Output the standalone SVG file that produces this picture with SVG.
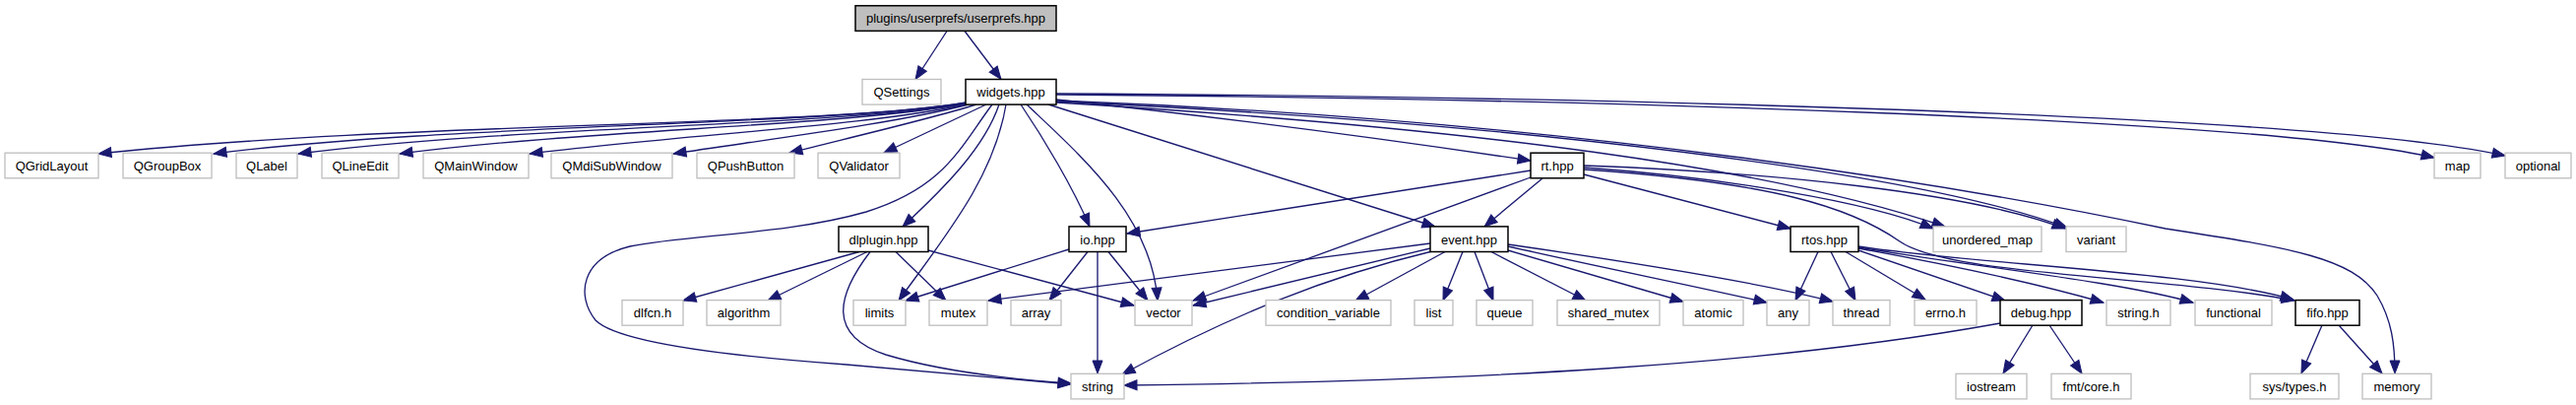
<svg xmlns="http://www.w3.org/2000/svg" width="2617" height="411" viewBox="0 0 2617 411">
<style>
.edges path{fill:none;stroke:#191970;stroke-width:1.33;marker-end:url(#arr)}
.ext rect{fill:#fff;stroke:#bfbfbf;stroke-width:1.33}
.int rect{fill:#fff;stroke:#000;stroke-width:1.5}
.root rect{fill:#bfbfbf;stroke:#000;stroke-width:1.5}
text{font-family:"Liberation Sans",Arial,Helvetica,sans-serif;font-size:13px;text-anchor:middle;fill:#000}
</style>
<defs>
<marker id="arr" markerUnits="userSpaceOnUse" markerWidth="14" markerHeight="11" refX="13" refY="5" orient="auto" overflow="visible">
<path d="M0,0 L13,5 L0,10 z" fill="#191970" stroke="#191970" stroke-width="1"/>
</marker>
</defs>
<rect x="0" y="0" width="2617" height="411" fill="#fff"/>
<g class="edges" id="edges">
<path d="M962,31.5 L930,80.5"/>
<path d="M980,31.5 L1017,80.5"/>
<path d="M982,104 C850,128 400,124 100,156"/>
<path d="M982,104 C850,127 450,126 217,156"/>
<path d="M982,105 C850,128 520,128 303,156"/>
<path d="M982,105 C860,128 600,131 406,156"/>
<path d="M982,106 C880,128 700,136 538,156"/>
<path d="M984,106 C910,125 790,140 684,156"/>
<path d="M992,106 C940,122 870,138 802,155"/>
<path d="M1002,106 L898,155"/>
<path d="M1015,106 C1000,150 960,190 917,230"/>
<path d="M1022,106 C1010,180 960,240 913,305"/>
<path d="M1008,106 C975,150 960,190 880,215 C800,238 700,238 640,250 C590,262 585,300 605,325 C625,345 720,360 860,370 C950,378 1030,385 1088,390"/>
<path d="M1037,106 C1060,140 1090,190 1107,230"/>
<path d="M1043,106 C1100,160 1170,220 1176,305"/>
<path d="M1065,106 L1458,230"/>
<path d="M1073,101 C1250,120 1400,140 1555,163"/>
<path d="M1073,104 C1500,130 1800,170 1976,230"/>
<path d="M1073,103 C1550,125 1950,175 2100,231"/>
<path d="M1073,102 C1600,122 2000,190 2200,232 C2330,252 2390,262 2415,300 C2430,325 2433,350 2433,379"/>
<path d="M1073,96 C1600,100 2300,120 2473,160"/>
<path d="M1073,95 C1600,98 2350,115 2545,158"/>
<path d="M1555,173 L1145,237"/>
<path d="M1555,180 L1212,305"/>
<path d="M1567,181 L1508,230"/>
<path d="M1609,177 L1819,232"/>
<path d="M1609,170 C1750,180 1900,205 1964,232"/>
<path d="M1609,168 C1800,175 2000,195 2098,232"/>
<path d="M1609,172 C1800,185 1880,210 1930,245 C1980,280 2200,280 2331,305"/>
<path d="M1847,255.5 L1824,305"/>
<path d="M1860,255.5 L1885,305"/>
<path d="M1875,255.5 L1956,304"/>
<path d="M1888,254 L2037,305"/>
<path d="M1888,252 C1960,265 2060,285 2137,307"/>
<path d="M1888,251 C2000,270 2150,285 2228,307"/>
<path d="M1888,250 C2000,268 2230,275 2330,304"/>
<path d="M1468,255.5 L1377,305"/>
<path d="M1486,255.5 L1466,305"/>
<path d="M1498,255.5 L1517,305"/>
<path d="M1515,255.5 L1611,305"/>
<path d="M1532,254 L1710,306"/>
<path d="M1532,250 C1620,270 1720,290 1795,307"/>
<path d="M1532,248 C1650,265 1780,285 1862,306"/>
<path d="M1453,247 L1004,305"/>
<path d="M1453,252 L1212,310"/>
<path d="M1455,255 C1350,280 1250,320 1140,380"/>
<path d="M1086,253 L920,305"/>
<path d="M1105,255.5 L1066,305"/>
<path d="M1115,255.5 L1115,379"/>
<path d="M1126,255.5 L1166,305"/>
<path d="M873,255.5 L694,305"/>
<path d="M881,255.5 L780,305"/>
<path d="M910,255.5 L961,305"/>
<path d="M943,254 L1152,310"/>
<path d="M884,255.5 C850,300 840,340 900,360 C960,378 1030,385 1088,389"/>
<path d="M2065,330 L2035,379"/>
<path d="M2082,330 L2115,379"/>
<path d="M2032,328 C1800,370 1500,387 1142,391"/>
<path d="M2359,330 L2338,379"/>
<path d="M2376,330 L2420,379"/>
</g>
<g id="n_userprefs" class="root"><rect x="869" y="5.8" width="204" height="25.6"/><text x="971" y="23.4">plugins/userprefs/userprefs.hpp</text></g>
<g id="n_QSettings" class="ext"><rect x="876" y="80.5" width="80" height="25.6"/><text x="916" y="98.1">QSettings</text></g>
<g id="n_widgets" class="int"><rect x="981" y="80.5" width="92" height="25.6"/><text x="1027" y="98.1">widgets.hpp</text></g>
<g id="n_QGridLayout" class="ext"><rect x="5" y="155.2" width="95" height="25.6"/><text x="52.5" y="172.8">QGridLayout</text></g>
<g id="n_QGroupBox" class="ext"><rect x="125" y="155.2" width="90" height="25.6"/><text x="170" y="172.8">QGroupBox</text></g>
<g id="n_QLabel" class="ext"><rect x="240" y="155.2" width="62" height="25.6"/><text x="271" y="172.8">QLabel</text></g>
<g id="n_QLineEdit" class="ext"><rect x="327" y="155.2" width="78" height="25.6"/><text x="366" y="172.8">QLineEdit</text></g>
<g id="n_QMainWindow" class="ext"><rect x="430" y="155.2" width="107" height="25.6"/><text x="483.5" y="172.8">QMainWindow</text></g>
<g id="n_QMdiSubWindow" class="ext"><rect x="560" y="155.2" width="123" height="25.6"/><text x="621.5" y="172.8">QMdiSubWindow</text></g>
<g id="n_QPushButton" class="ext"><rect x="708" y="155.2" width="99" height="25.6"/><text x="757.5" y="172.8">QPushButton</text></g>
<g id="n_QValidator" class="ext"><rect x="831" y="155.2" width="83" height="25.6"/><text x="872.5" y="172.8">QValidator</text></g>
<g id="n_rt" class="int"><rect x="1555" y="155.2" width="54" height="25.6"/><text x="1582" y="172.8">rt.hpp</text></g>
<g id="n_map" class="ext"><rect x="2473" y="155.2" width="47" height="25.6"/><text x="2496.5" y="172.8">map</text></g>
<g id="n_optional" class="ext"><rect x="2545" y="155.2" width="67" height="25.6"/><text x="2578.5" y="172.8">optional</text></g>
<g id="n_dlplugin" class="int"><rect x="852" y="229.9" width="91" height="25.6"/><text x="897.5" y="247.5">dlplugin.hpp</text></g>
<g id="n_io" class="int"><rect x="1086" y="229.9" width="58" height="25.6"/><text x="1115" y="247.5">io.hpp</text></g>
<g id="n_event" class="int"><rect x="1453" y="229.9" width="79" height="25.6"/><text x="1492.5" y="247.5">event.hpp</text></g>
<g id="n_rtos" class="int"><rect x="1819" y="229.9" width="69" height="25.6"/><text x="1853.5" y="247.5">rtos.hpp</text></g>
<g id="n_unordered_map" class="ext"><rect x="1964" y="229.9" width="110" height="25.6"/><text x="2019" y="247.5">unordered_map</text></g>
<g id="n_variant" class="ext"><rect x="2099" y="229.9" width="61" height="25.6"/><text x="2129.5" y="247.5">variant</text></g>
<g id="n_dlfcn" class="ext"><rect x="632" y="304.6" width="62" height="25.6"/><text x="663" y="322.2">dlfcn.h</text></g>
<g id="n_algorithm" class="ext"><rect x="718" y="304.6" width="75" height="25.6"/><text x="755.5" y="322.2">algorithm</text></g>
<g id="n_limits" class="ext"><rect x="867" y="304.6" width="53" height="25.6"/><text x="893.5" y="322.2">limits</text></g>
<g id="n_mutex" class="ext"><rect x="944" y="304.6" width="59" height="25.6"/><text x="973.5" y="322.2">mutex</text></g>
<g id="n_array" class="ext"><rect x="1027" y="304.6" width="51" height="25.6"/><text x="1052.5" y="322.2">array</text></g>
<g id="n_vector" class="ext"><rect x="1153" y="304.6" width="58" height="25.6"/><text x="1182" y="322.2">vector</text></g>
<g id="n_condition_variable" class="ext"><rect x="1286" y="304.6" width="127" height="25.6"/><text x="1349.5" y="322.2">condition_variable</text></g>
<g id="n_list" class="ext"><rect x="1437" y="304.6" width="39" height="25.6"/><text x="1456.5" y="322.2">list</text></g>
<g id="n_queue" class="ext"><rect x="1500" y="304.6" width="57" height="25.6"/><text x="1528.5" y="322.2">queue</text></g>
<g id="n_shared_mutex" class="ext"><rect x="1582" y="304.6" width="104" height="25.6"/><text x="1634" y="322.2">shared_mutex</text></g>
<g id="n_atomic" class="ext"><rect x="1710" y="304.6" width="61" height="25.6"/><text x="1740.5" y="322.2">atomic</text></g>
<g id="n_any" class="ext"><rect x="1795" y="304.6" width="43" height="25.6"/><text x="1816.5" y="322.2">any</text></g>
<g id="n_thread" class="ext"><rect x="1862" y="304.6" width="58" height="25.6"/><text x="1891" y="322.2">thread</text></g>
<g id="n_errno" class="ext"><rect x="1945" y="304.6" width="63" height="25.6"/><text x="1976.5" y="322.2">errno.h</text></g>
<g id="n_debug" class="int"><rect x="2032" y="304.6" width="83" height="25.6"/><text x="2073.5" y="322.2">debug.hpp</text></g>
<g id="n_string_h" class="ext"><rect x="2140" y="304.6" width="65" height="25.6"/><text x="2172.5" y="322.2">string.h</text></g>
<g id="n_functional" class="ext"><rect x="2230" y="304.6" width="78" height="25.6"/><text x="2269" y="322.2">functional</text></g>
<g id="n_fifo" class="int"><rect x="2332" y="304.6" width="65" height="25.6"/><text x="2364.5" y="322.2">fifo.hpp</text></g>
<g id="n_string" class="ext"><rect x="1088" y="379.3" width="54" height="25.6"/><text x="1115" y="396.9">string</text></g>
<g id="n_iostream" class="ext"><rect x="1987" y="379.3" width="72" height="25.6"/><text x="2023" y="396.9">iostream</text></g>
<g id="n_fmt_core" class="ext"><rect x="2084" y="379.3" width="81" height="25.6"/><text x="2124.5" y="396.9">fmt/core.h</text></g>
<g id="n_sys_types" class="ext"><rect x="2286" y="379.3" width="90" height="25.6"/><text x="2331" y="396.9">sys/types.h</text></g>
<g id="n_memory" class="ext"><rect x="2400" y="379.3" width="70" height="25.6"/><text x="2435" y="396.9">memory</text></g>
</svg>
